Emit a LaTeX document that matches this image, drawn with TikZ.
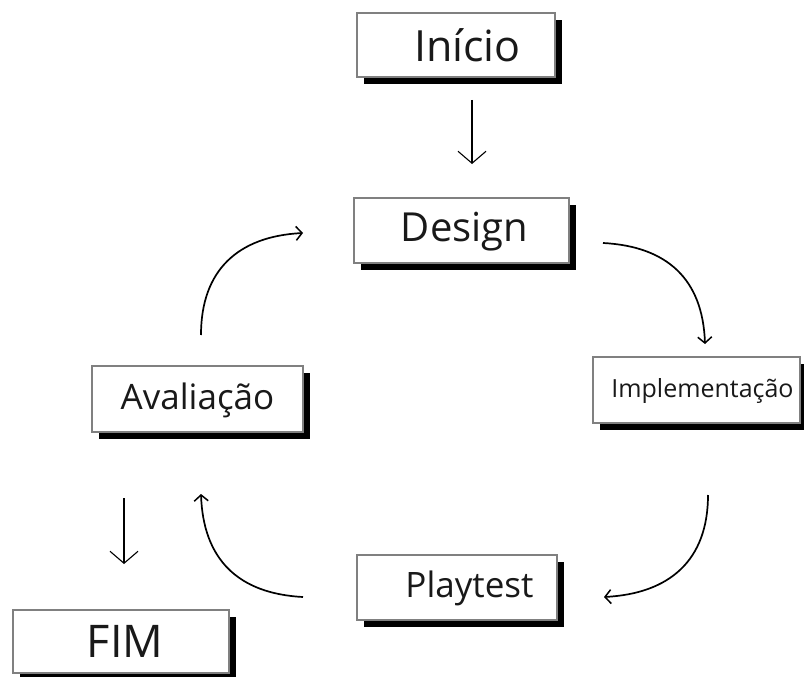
\documentclass[tikz,border=0pt]{standalone}
\usepackage{fontspec}
\setmainfont{Open Sans}
\usetikzlibrary{arrows.meta,shadows}
\begin{document}
\begin{tikzpicture}[x=1pt,y=-1pt,
  stagebox/.style={draw=black!50, line width=1.1pt, fill=white, rectangle, inner sep=0pt,
    drop shadow={shadow xshift=7pt, shadow yshift=-7pt, fill=black, opacity=1}},
  stagetext/.style={inner sep=0pt, text=black!90},
  straightarrow/.style={line width=1.1pt, -{Straight Barb[length=12pt,width=28pt,line width=1.1pt]}},
  curvearrow/.style={line width=1.7pt, looseness=1.15, -{Straight Barb[length=6pt,width=14pt,line width=1.5pt]}}
]
\useasboundingbox (0,0) rectangle (804,677);
\fill[white] (0,0) rectangle (804,677);

% boxes
\node[stagebox, minimum width=198pt, minimum height=64pt] (inicio) at (456,45) {};
\node[stagebox, minimum width=215pt, minimum height=65pt] (design) at (461.5,230.5) {};
\node[stagebox, minimum width=207pt, minimum height=66pt] (impl) at (696.5,390) {};
\node[stagebox, minimum width=211pt, minimum height=66pt] (aval) at (197.5,399) {};
\node[stagebox, minimum width=200pt, minimum height=65pt] (play) at (457,587.5) {};
\node[stagebox, minimum width=216pt, minimum height=63pt] (fim) at (121,641.5) {};

% texts
\node[stagetext, font=\fontsize{43}{46}\selectfont] (inicio-t) at (467.5,45) {Início};
\node[stagetext, font=\fontsize{40}{44}\selectfont] (design-t) at (464.5,232) {Design};
\node[stagetext, font=\fontsize{25}{29}\selectfont] (impl-t) at (702.5,391) {Implementação};
\node[stagetext, font=\fontsize{35}{39}\selectfont] (aval-t) at (197.5,400) {Avaliação};
\node[stagetext, font=\fontsize{35}{38}\selectfont] (play-t) at (469.5,588) {Playtest};
\node[stagetext, font=\fontsize{45}{48}\selectfont] (fim-t) at (125,641) {FIM};

% connector end points
\coordinate (a1s) at (472,100);  \coordinate (a1e) at (472,164);
\coordinate (a2s) at (124,498);  \coordinate (a2e) at (124,564);
\coordinate (c1s) at (201,335);  \coordinate (c1e) at (303,233);
\coordinate (c2s) at (603,243);  \coordinate (c2e) at (705,344);
\coordinate (c3s) at (708,495);  \coordinate (c3e) at (604,597);
\coordinate (c4s) at (303,597);  \coordinate (c4e) at (201,494);

\draw[straightarrow] (a1s) -- (a1e);
\draw[straightarrow] (a2s) -- (a2e);
\draw[curvearrow] (c1s) to[out=90,in=183] (c1e);
\draw[curvearrow] (c2s) to[out=-3,in=92] (c2e);
\draw[curvearrow] (c3s) to[out=-90,in=3] (c3e);
\draw[curvearrow] (c4s) to[out=177,in=-88] (c4e);
\end{tikzpicture}
\end{document}
